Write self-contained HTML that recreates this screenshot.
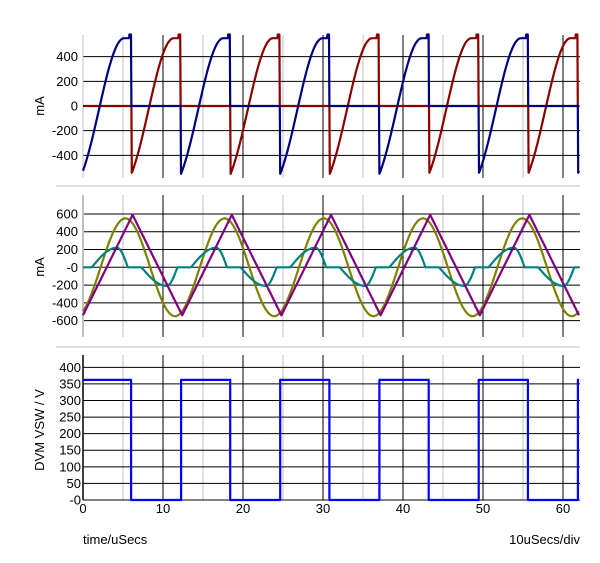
<!DOCTYPE html>
<html><head><meta charset="utf-8"><style>
html,body{margin:0;padding:0;background:#fff;}
svg{display:block;font-family:"Liberation Sans",sans-serif;font-size:13px;}
</style></head><body>
<svg id="s" width="600" height="563" xmlns="http://www.w3.org/2000/svg"></svg>
<script>
const S=document.getElementById('s');
let h='';
const X=t=>83+t*8;
const P=12.4;
function path(pts,col){
  h+=`<polyline fill="none" stroke="${col}" stroke-width="2.2" stroke-linejoin="round" points="${pts.map(p=>p[0].toFixed(1)+','+p[1].toFixed(1)).join(' ')}"/>`;
}
const T0=106,TS=0.1233;
function iTop(u){
  const L=5.3;
  if(u<L){const f=0.5*Math.sin(Math.PI*u/(2*L))+0.5*(1-Math.cos(Math.PI*u/L))/2; return -550+1100*f;}
  if(u<6.15) return 550+(u>5.9?30:0);
  return 0;
}
function topSeries(off,col){
  const pts=[];
  for(let t=0;t<=62;t+=0.05){
    let u=((t+off)%P+P)%P;
    pts.push([X(t),T0-TS*iTop(u)]);
  }
  path(pts,col);
}
const M0=267.3,MS=0.0889;
for(let t=5;t<=62;t+=5){const c=(t%10===0)?'#000':'#c0c0c0';
 h+=`<line x1="${X(t)}" y1="35" x2="${X(t)}" y2="178" stroke="${c}"/>`;
 h+=`<line x1="${X(t)}" y1="195" x2="${X(t)}" y2="337" stroke="${c}"/>`;
 h+=`<line x1="${X(t)}" y1="355" x2="${X(t)}" y2="500" stroke="${c}"/>`;}
[[400,'400'],[200,'200'],[0,'0'],[-200,'-200'],[-400,'-400']].forEach(([v,l])=>{const y=T0-TS*v;
 h+=`<line x1="83" y1="${y}" x2="580" y2="${y}" stroke="#000"/><text x="78" y="${y+4.5}" text-anchor="end">${l}</text>`;});
[[600,'600'],[400,'400'],[200,'200'],[0,'-0'],[-200,'-200'],[-400,'-400'],[-600,'-600']].forEach(([v,l])=>{const y=M0-MS*v;
 h+=`<line x1="83" y1="${y}" x2="580" y2="${y}" stroke="#000"/><text x="78" y="${y+4.5}" text-anchor="end">${l}</text>`;});
const B0=500,BS=0.3317;
for(let v=0;v<=400;v+=50){const y=B0-BS*v;
 h+=`<line x1="83" y1="${y}" x2="580" y2="${y}" stroke="#000"/><text x="81" y="${y+4.5}" text-anchor="end">${v===0?'-0':v}</text>`;}
h+=`<line x1="83" y1="35" x2="83" y2="178" stroke="#c0c0c0"/>`;
h+=`<line x1="83" y1="195" x2="83" y2="337" stroke="#c0c0c0" stroke-width="2"/>`;
h+=`<line x1="83" y1="355" x2="83" y2="500" stroke="#000" stroke-width="1.5"/>`;
h+=`<line x1="56" y1="186" x2="580" y2="186" stroke="#c0c0c0"/>`;
h+=`<line x1="56" y1="347" x2="580" y2="347" stroke="#c0c0c0"/>`;
for(let t=0;t<=60;t+=10){h+=`<text x="${X(t)}" y="513" text-anchor="middle">${t}</text>`;}
h+=`<text x="83" y="544">time/uSecs</text><text x="580" y="544" text-anchor="end">10uSecs/div</text>`;
h+=`<text transform="translate(44,106) rotate(-90)" text-anchor="middle">mA</text>`;
h+=`<text transform="translate(44,267) rotate(-90)" text-anchor="middle">mA</text>`;
h+=`<text transform="translate(44,430) rotate(-90)" text-anchor="middle">DVM VSW / V</text>`;
topSeries(6.2+0.15,'#8b0000');
topSeries(0.15,'#000080');
function teal(u){
  const half=(v)=>{ if(v<1.1||v>=5.6) return 0; if(v<4.25) return 220*Math.sin(Math.PI/2*(v-1.1)/3.15); return 220*Math.cos(Math.PI/2*(v-4.25)/1.35);};
  if(u<6.2) return half(u); return -0.95*half(u-6.2);
}
function tri(u){ return u<6.2? -540+1130*u/6.2 : 590-1130*(u-6.2)/6.2; }
const ol=[],tl=[],pu=[];
for(let t=0;t<=62;t+=0.05){
  const u=((t%P)+P)%P;
  ol.push([X(t),M0-MS*(-550*Math.cos(2*Math.PI*(t+0.9)/P))]);
  tl.push([X(t),M0-MS*teal(u)]);
  pu.push([X(t),M0-MS*tri(u)]);
}
path(ol,'#808000');path(tl,'#008080');path(pu,'#800080');
const bp=[];let prev=null;
for(let t=0;t<=62.01;t+=0.01){
  const u=((t+0.15)%P+P)%P;
  const v=u<6.15?362:0;
  const y=B0-BS*v;
  if(prev!==null&&prev!==y)bp.push([X(t),prev]);
  bp.push([X(t),y]);prev=y;
}
path(bp,'#0000ff');
S.innerHTML=h;
</script>
</body></html>
